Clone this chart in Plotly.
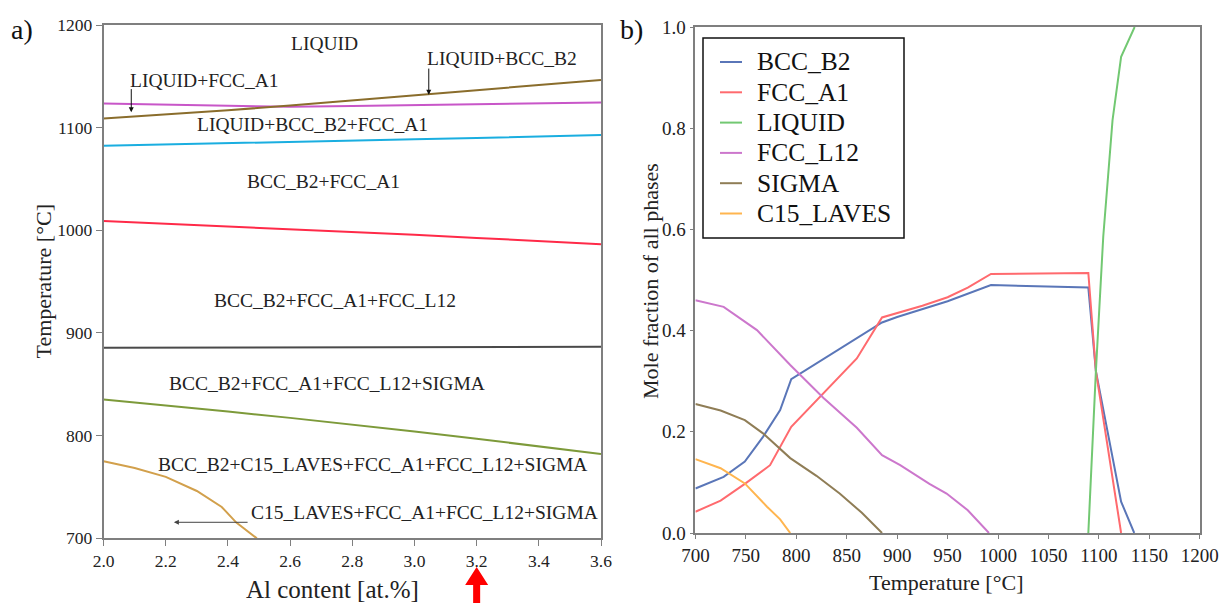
import plotly.graph_objects as go

# ---------------- data: a) phase diagram (Al content vs temperature) ----------------
al_content = [2.0, 2.2, 2.4, 2.6, 2.8, 3.0, 3.2, 3.4, 3.6]
t_fcc_l12_liq = [1123.5, 1122.3, 1121.0, 1120.3, 1121.0, 1122.0, 1123.0, 1123.8, 1124.5]
t_liq_bcc = [1109.0, 1112.8, 1117.0, 1121.5, 1126.3, 1131.5, 1136.5, 1141.5, 1146.4]
t_solidus = [1082.4, 1083.5, 1084.7, 1086.0, 1087.3, 1088.6, 1090.0, 1091.4, 1092.8]
t_l12_solvus = [1009.0, 1006.4, 1003.8, 1001.1, 998.4, 995.6, 992.6, 989.6, 986.5]
t_sigma_solvus = [885.5, 885.6, 885.7, 885.8, 885.9, 886.0, 886.1, 886.3, 886.5]
t_bcc_lower = [835.2, 829.5, 823.5, 817.3, 810.8, 804.0, 796.9, 789.7, 782.2]
al_laves = [2.0, 2.1, 2.2, 2.3, 2.38, 2.427, 2.493]
t_laves = [775.0, 768.5, 759.8, 746.1, 730.5, 715.3, 700.0]

region_labels = ["LIQUID", "LIQUID+BCC_B2", "LIQUID+FCC_A1", "LIQUID+BCC_B2+FCC_A1",
                 "BCC_B2+FCC_A1", "BCC_B2+FCC_A1+FCC_L12", "BCC_B2+FCC_A1+FCC_L12+SIGMA",
                 "BCC_B2+C15_LAVES+FCC_A1+FCC_L12+SIGMA", "C15_LAVES+FCC_A1+FCC_L12+SIGMA"]
region_al = [2.709, 3.283, 2.323, 2.672, 2.706, 2.745, 2.717, 2.865, 3.032]
region_t = [1181.5, 1167.0, 1146.4, 1102.8, 1047.3, 932.0, 850.8, 771.8, 725.3]

a_xticks = [2.0, 2.2, 2.4, 2.6, 2.8, 3.0, 3.2, 3.4, 3.6]
a_xticktext = ["2.0", "2.2", "2.4", "2.6", "2.8", "3.0", "3.2", "3.4", "3.6"]
a_yticks = [700, 800, 900, 1000, 1100, 1200]
a_yticktext = ["700", "800", "900", "1000", "1100", "1200"]
selected_al = 3.2

# ---------------- data: b) phase fractions vs temperature ----------------
t_bcc = [700, 728, 749, 767, 784, 795, 885, 900, 950, 993, 1089.5, 1097, 1122, 1135]
f_bcc = [0.088, 0.111, 0.141, 0.19, 0.243, 0.304, 0.416, 0.427, 0.458, 0.49, 0.485, 0.32, 0.062, 0.0]
t_fcc = [700, 725, 749, 774, 795, 827, 860, 885, 900, 925, 950, 970, 993, 1089.5, 1097, 1110, 1122]
f_fcc = [0.042, 0.064, 0.097, 0.134, 0.21, 0.276, 0.345, 0.426, 0.435, 0.449, 0.466, 0.485, 0.512, 0.514, 0.32, 0.15, 0.0]
t_liq = [1089.5, 1097, 1104.3, 1113.5, 1122, 1135.4]
f_liq = [0.0, 0.32, 0.586, 0.816, 0.941, 1.0]
t_l12 = [700, 728, 761, 777, 794, 827, 860, 885, 903, 932, 949, 970, 991]
f_l12 = [0.46, 0.447, 0.401, 0.368, 0.332, 0.267, 0.208, 0.154, 0.134, 0.097, 0.078, 0.045, 0.0]
t_sigma = [700, 725, 749, 767, 794, 820, 843, 865, 885]
f_sigma = [0.255, 0.242, 0.223, 0.197, 0.148, 0.113, 0.078, 0.04, 0.0]
t_laves_b = [700, 725, 749, 771, 784, 794]
f_laves_b = [0.146, 0.128, 0.098, 0.052, 0.027, 0.0]

phase_names = ["BCC_B2", "FCC_A1", "LIQUID", "FCC_L12", "SIGMA", "C15_LAVES"]

b_xticks = [700, 750, 800, 850, 900, 950, 1000, 1050, 1100, 1150, 1200]
b_xticktext = [str(v) for v in b_xticks]
b_yticks = [0.0, 0.2, 0.4, 0.6, 0.8, 1.0]
b_yticktext = ["0.0", "0.2", "0.4", "0.6", "0.8", "1.0"]

SERIF = "Liberation Serif, Times New Roman, serif"
W, H = 1220, 603

def px(xp):
    return xp / W

def py(yp):
    return 1 - yp / H

fig = go.Figure()

# ---- a) lines
a_lines = [
    (al_content, t_fcc_l12_liq, "#c856c8"),
    (al_content, t_liq_bcc, "#8a6d2c"),
    (al_content, t_solidus, "#1aaee0"),
    (al_content, t_l12_solvus, "#ff2a48"),
    (al_content, t_sigma_solvus, "#4a4a4a"),
    (al_content, t_bcc_lower, "#7d9a3a"),
    (al_laves, t_laves, "#d2a04c"),
]
for xs, ys, col in a_lines:
    fig.add_trace(go.Scatter(x=xs, y=ys, mode="lines", line=dict(color=col, width=2),
                             showlegend=False, hoverinfo="skip", xaxis="x", yaxis="y"))

# ---- b) phase fractions
phase_colors = ["#5a76b8", "#ff6a6e", "#72c872", "#cc77cc", "#8f7d56", "#ffb54f"]
b_data = [(t_bcc, f_bcc), (t_fcc, f_fcc), (t_liq, f_liq), (t_l12, f_l12),
          (t_sigma, f_sigma), (t_laves_b, f_laves_b)]
for name, (xs, ys), col in zip(phase_names, b_data, phase_colors):
    fig.add_trace(go.Scatter(x=xs, y=ys, mode="lines", name=name, showlegend=False,
                             line=dict(color=col, width=2), xaxis="x2", yaxis="y2"))

axis_common = dict(showgrid=False, zeroline=False, showline=True, mirror=True,
                   linecolor="#7f7f7f", linewidth=1.5, ticks="outside",
                   tickcolor="#7f7f7f", tickwidth=1.2, automargin=False)

annotations = []
for txt, xv, yv in zip(region_labels, region_al, region_t):
    annotations.append(dict(text=txt, x=xv, y=yv, xref="x", yref="y", showarrow=False,
                            xanchor="center", yanchor="middle",
                            font=dict(family=SERIF, size=19.5, color="#222")))

# pointer arrows in a)
annotations.append(dict(text="", x=2.089, y=1115, ax=2.089, ay=1139, xref="x", yref="y",
                        axref="x", ayref="y", showarrow=True, arrowhead=2, arrowsize=1,
                        arrowwidth=1, arrowcolor="#111"))
annotations.append(dict(text="", x=3.046, y=1132, ax=3.046, ay=1159, xref="x", yref="y",
                        axref="x", ayref="y", showarrow=True, arrowhead=2, arrowsize=1,
                        arrowwidth=1, arrowcolor="#111"))
annotations.append(dict(text="", x=2.226, y=715.6, ax=2.468, ay=715.6, xref="x", yref="y",
                        axref="x", ayref="y", showarrow=True, arrowhead=2, arrowsize=1,
                        arrowwidth=1, arrowcolor="#444"))

# axis titles and panel letters
def paper_text(text, xp, yp, size, angle=0, color="#222"):
    return dict(text=text, x=px(xp), y=py(yp), xref="paper", yref="paper",
                xanchor="center", yanchor="middle", showarrow=False, textangle=angle,
                font=dict(family=SERIF, size=size, color=color))

annotations += [
    paper_text("Al content [at.%]", 332.8, 589, 25),
    paper_text("Temperature [°C]", 42.5, 281, 22, -90),
    paper_text("Temperature [°C]", 946.3, 582, 22),
    paper_text("Mole fraction of all phases", 650, 281, 22, -90),
    paper_text("a)", 22, 29, 28, color="#111"),
    paper_text("b)", 631, 29, 28, color="#111"),
]

shapes = []
# legend of b) (box, swatches, labels)
leg_x0, leg_x1, leg_y0, leg_y1 = 703, 904, 38, 238
shapes.append(dict(type="rect", xref="paper", yref="paper", x0=px(leg_x0), x1=px(leg_x1),
                   y0=py(leg_y1), y1=py(leg_y0), fillcolor="white",
                   line=dict(color="#111", width=1.5), layer="above"))
for i, (name, col) in enumerate(zip(phase_names, phase_colors)):
    yc = 62 + i * 30.3
    shapes.append(dict(type="line", xref="paper", yref="paper", x0=px(720), x1=px(742),
                       y0=py(yc), y1=py(yc), line=dict(color=col, width=2), layer="above"))
    annotations.append(dict(text=name, x=px(755), y=py(yc), xref="paper", yref="paper",
                            xanchor="left", yanchor="middle", showarrow=False,
                            font=dict(family=SERIF, size=25.5, color="#111")))

# red arrow marking the selected Al content (below the x axis)
hw_head, hw_shaft = 0.037, 0.0113
y_tip, y_base, y_end = py(567), py(585), -0.01
p = selected_al
arrow_path = (f"M {p},{y_tip} L {p + hw_head},{y_base} L {p + hw_shaft},{y_base} "
              f"L {p + hw_shaft},{y_end} L {p - hw_shaft},{y_end} L {p - hw_shaft},{y_base} "
              f"L {p - hw_head},{y_base} Z")
shapes.append(dict(type="path", path=arrow_path, xref="x", yref="paper",
                   fillcolor="#ff0000", line=dict(width=0)))

fig.update_layout(
    width=W, height=H,
    margin=dict(l=0, r=0, t=0, b=0),
    paper_bgcolor="white", plot_bgcolor="white",
    font=dict(family=SERIF, color="#222"),
    showlegend=False,
    xaxis=dict(domain=[px(103.6), px(601)], range=[2.0, 3.6], tickvals=a_xticks,
               ticktext=a_xticktext, ticklen=6, tickfont=dict(size=17.5, family=SERIF, color="#222"),
               anchor="y", **axis_common),
    yaxis=dict(domain=[py(538.3), py(25)], range=[700, 1200], tickvals=a_yticks,
               ticktext=a_yticktext, ticklen=6, tickfont=dict(size=17.5, family=SERIF, color="#222"),
               anchor="x", **axis_common),
    xaxis2=dict(domain=[px(695.4), px(1199.8)], range=[700, 1200], tickvals=b_xticks,
                ticktext=b_xticktext, ticklen=4, tickfont=dict(size=19, family=SERIF, color="#222"),
                anchor="y2", **axis_common),
    yaxis2=dict(domain=[py(533), py(27)], range=[0, 1], tickvals=b_yticks,
                ticktext=b_yticktext, ticklen=4, tickfont=dict(size=19, family=SERIF, color="#222"),
                anchor="x2", **axis_common),
    annotations=annotations,
    shapes=shapes,
)

fig.write_html("out.html")
